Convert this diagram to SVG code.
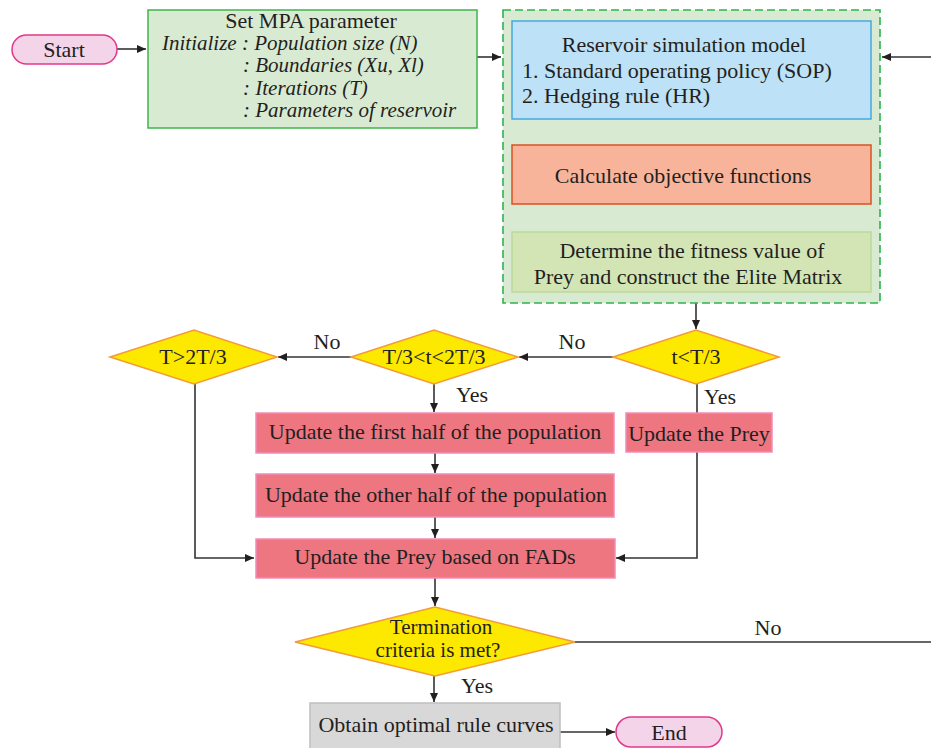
<svg xmlns="http://www.w3.org/2000/svg" width="931" height="748" viewBox="0 0 931 748">
<style>
text{font-family:"Liberation Serif","Times New Roman",serif;font-size:22px;fill:#231f20}
.c{text-anchor:middle}
.it{font-style:italic;font-size:21px}
.sm{font-size:21px}
.dia{fill:#fde800;stroke:#f39a3a;stroke-width:1.5}
.upd{fill:#ee7680;stroke:#f28bb9;stroke-width:1.5}
.pill{fill:#f4d4e8;stroke:#e2378b;stroke-width:1.5}
.ln{fill:none;stroke:#333;stroke-width:1.6}
</style>
<defs>
<marker id="ah" markerUnits="userSpaceOnUse" markerWidth="10" markerHeight="8" refX="9" refY="4" orient="auto">
<path d="M0,0 L9,4 L0,8 z" fill="#231f20"/>
</marker>
</defs>

<g id="connectors">
<path class="ln" d="M117,49 H146" marker-end="url(#ah)"/>
<path class="ln" d="M477,57 H501" marker-end="url(#ah)"/>
<path class="ln" d="M931,57 H882" marker-end="url(#ah)"/>
<path class="ln" d="M694,119 V144" marker-end="url(#ah)"/>
<path class="ln" d="M693,204 V231" marker-end="url(#ah)"/>
<path class="ln" d="M696,303 V329" marker-end="url(#ah)"/>
<path class="ln" d="M613,357 H519" marker-end="url(#ah)"/>
<path class="ln" d="M351,357 H278" marker-end="url(#ah)"/>
<path class="ln" d="M434,384 V412" marker-end="url(#ah)"/>
<path class="ln" d="M697,384 V413"/>
<path class="ln" d="M435,453 V473" marker-end="url(#ah)"/>
<path class="ln" d="M435,517 V538" marker-end="url(#ah)"/>
<path class="ln" d="M195,384 V558 H254" marker-end="url(#ah)"/>
<path class="ln" d="M697,452 V558 H616" marker-end="url(#ah)"/>
<path class="ln" d="M435,578 V606" marker-end="url(#ah)"/>
<path class="ln" d="M575,642 H931"/>
<path class="ln" d="M434,676 V702" marker-end="url(#ah)"/>
<path class="ln" d="M560,732 H615" marker-end="url(#ah)"/>
<text x="327" y="349" class="c">No</text>
<text x="572" y="349" class="c">No</text>
<text x="472" y="402" class="c">Yes</text>
<text x="720" y="404" class="c">Yes</text>
<text x="768" y="635" class="c">No</text>
<text x="477" y="693" class="c">Yes</text>
</g>

<g id="start">
<rect class="pill" x="12" y="35" width="105" height="29" rx="14.5"/>
<text x="64" y="57" class="c">Start</text>
</g>

<g id="mpa">
<rect x="148" y="10" width="329" height="118" fill="#d9ead3" stroke="#3cb54a" stroke-width="1.5"/>
<text x="311" y="28" class="c">Set MPA parameter</text>
<text x="162" y="50" class="it">Initialize : Population size (N)</text>
<text x="243" y="72" class="it">: Boundaries (Xu, Xl)</text>
<text x="243" y="95" class="it">: Iterations (T)</text>
<text x="243" y="117" class="it">: Parameters of reservoir</text>
</g>

<g id="loop">
<rect x="503" y="10" width="377" height="293" fill="#d9ead3" stroke="#2fb24c" stroke-width="1.6" stroke-dasharray="8,4"/>
</g>

<g id="reservoir">
<rect x="512" y="21" width="359" height="98" fill="#bde1f6" stroke="#45a9e0" stroke-width="1.5"/>
<text x="684" y="52" class="c">Reservoir simulation model</text>
<text x="522" y="78">1. Standard operating policy (SOP)</text>
<text x="522" y="103">2. Hedging rule (HR)</text>
</g>

<g id="objective">
<rect x="512" y="145" width="359" height="59" fill="#f8b49b" stroke="#d9531e" stroke-width="1.5"/>
<text x="683" y="183" class="c">Calculate objective functions</text>
</g>

<g id="fitness">
<rect x="512" y="232" width="359" height="60" fill="#d3e5b5" stroke="#bcd99a" stroke-width="1.5"/>
<text x="692" y="258" class="c">Determine the fitness value of</text>
<text x="688" y="284" class="c">Prey and construct the Elite Matrix</text>
</g>

<g id="d1">
<polygon class="dia" points="613,357 696,330 779,357 696,384"/>
<text x="696" y="364" class="c">t&lt;T/3</text>
</g>

<g id="d2">
<polygon class="dia" points="351,357 434,330 518,357 434,384"/>
<text x="434" y="364" class="c">T/3&lt;t&lt;2T/3</text>
</g>

<g id="d3">
<polygon class="dia" points="110,357 194,330 277,357 194,384"/>
<text x="193" y="364" class="c">T&gt;2T/3</text>
</g>

<g id="firsthalf">
<rect class="upd" x="256" y="413" width="358" height="40"/>
<text x="435" y="439" class="c">Update the first half of the population</text>
</g>

<g id="updprey">
<rect class="upd" x="626" y="413" width="146" height="39"/>
<text x="699" y="441" class="c">Update the Prey</text>
</g>

<g id="otherhalf">
<rect class="upd" x="256" y="474" width="358" height="43"/>
<text x="436" y="502" class="c">Update the other half of the population</text>
</g>

<g id="fads">
<rect class="upd" x="256" y="539" width="359" height="39"/>
<text x="435" y="564" class="c">Update the Prey based on FADs</text>
</g>

<g id="term">
<polygon class="dia" points="295,642 435,607 575,642 435,676"/>
<text x="441" y="634" class="c sm">Termination</text>
<text x="438" y="657" class="c sm">criteria is met?</text>
</g>

<g id="obtain">
<rect x="310" y="703" width="250" height="50" fill="#d9d8d9" stroke="#bfbfbf" stroke-width="1.5"/>
<text x="436" y="732" class="c">Obtain optimal rule curves</text>
</g>

<g id="end">
<rect class="pill" x="616" y="717" width="106" height="30" rx="15"/>
<text x="669" y="740" class="c">End</text>
</g>
</svg>
